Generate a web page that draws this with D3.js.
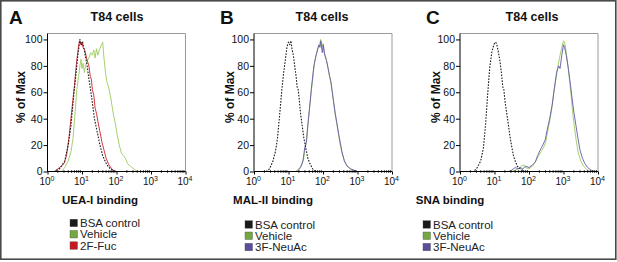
<!DOCTYPE html>
<html>
<head>
<meta charset="utf-8">
<script src="https://cdn.jsdelivr.net/npm/d3@7"></script>
<style>
  body { margin: 0; background: #fff; }
  svg { display: block; font-family: 'Liberation Sans', Arial, sans-serif; }
</style>
</head>
<body>
<div id="chart"></div>
<script>
// histogram traces: [log10 intensity, % of max]
const aBsa = [[0,0],[0.2,0],[0.35,2],[0.5,8],[0.6,20],[0.68,35],[0.77,60],[0.83,75],[0.88,88],[0.94,100],[0.98,96],[1.02,98],[1.08,90],[1.15,80],[1.2,70],[1.26,60],[1.31,50],[1.36,40],[1.44,30],[1.52,20],[1.6,12],[1.72,5],[1.82,2],[1.95,0],[4,0]];
const aVehicle = [[0,0],[0.4,0],[0.5,3],[0.6,8],[0.68,15],[0.74,25],[0.8,45],[0.85,62],[0.9,72],[0.94,80],[0.97,85],[1.0,78],[1.03,82],[1.07,75],[1.1,80],[1.15,84],[1.2,86],[1.25,90],[1.3,88],[1.34,92],[1.38,86],[1.42,93],[1.46,88],[1.5,92],[1.55,95],[1.6,98],[1.64,85],[1.68,75],[1.72,68],[1.76,65],[1.8,60],[1.84,55],[1.88,48],[1.92,42],[1.97,36],[2.02,28],[2.08,20],[2.14,14],[2.2,12],[2.26,10],[2.32,6],[2.4,4],[2.5,2],[2.6,0],[4,0]];
const a2FFuc = [[0,0],[0.2,0],[0.3,2],[0.4,4],[0.48,6],[0.55,12],[0.62,25],[0.7,45],[0.78,65],[0.84,82],[0.9,95],[0.93,99],[0.97,96],[1.0,98],[1.03,94],[1.08,92],[1.14,85],[1.2,80],[1.24,72],[1.27,70],[1.3,62],[1.34,58],[1.38,48],[1.42,44],[1.46,38],[1.52,30],[1.58,22],[1.64,16],[1.7,10],[1.78,5],[1.86,2],[1.95,0],[4,0]];

const bBsa = [[0,0],[0.35,0],[0.45,2],[0.55,8],[0.62,15],[0.68,25],[0.74,42],[0.8,60],[0.86,75],[0.91,85],[0.96,95],[1.0,98],[1.04,96],[1.07,99],[1.1,93],[1.14,88],[1.18,80],[1.22,72],[1.25,64],[1.28,62],[1.31,55],[1.35,44],[1.39,36],[1.44,26],[1.5,18],[1.56,10],[1.62,6],[1.7,2],[1.8,0],[4,0]];
const bVehicle = [[0,0],[1.2,0],[1.3,2],[1.38,5],[1.44,10],[1.5,20],[1.55,32],[1.6,45],[1.65,58],[1.7,70],[1.74,80],[1.78,86],[1.82,90],[1.86,94],[1.9,96],[1.93,100],[1.96,93],[2.0,97],[2.03,90],[2.07,88],[2.12,82],[2.16,76],[2.2,72],[2.24,65],[2.28,58],[2.32,50],[2.36,42],[2.4,36],[2.45,28],[2.5,20],[2.56,13],[2.62,8],[2.7,4],[2.8,2],[2.95,0],[4,0]];
const b3FNeuAc = [[0,0],[1.25,0],[1.35,3],[1.42,8],[1.47,18],[1.52,22],[1.56,35],[1.61,48],[1.66,62],[1.71,74],[1.75,82],[1.8,88],[1.84,92],[1.88,96],[1.91,94],[1.94,99],[1.98,90],[2.01,96],[2.05,88],[2.1,84],[2.15,78],[2.19,72],[2.23,68],[2.27,60],[2.31,52],[2.35,45],[2.4,37],[2.45,29],[2.5,22],[2.55,15],[2.62,8],[2.7,4],[2.8,2],[3.0,0],[4,0]];

const cBsa = [[0,0],[0.4,0],[0.5,3],[0.6,8],[0.68,18],[0.74,35],[0.8,58],[0.86,78],[0.92,90],[0.98,96],[1.02,98],[1.06,97],[1.1,92],[1.15,85],[1.2,75],[1.24,64],[1.27,62],[1.31,52],[1.35,45],[1.39,38],[1.44,28],[1.49,20],[1.55,12],[1.6,8],[1.66,4],[1.75,2],[1.87,0],[4,0]];
const cVehicle = [[0,0],[1.5,0],[1.6,1],[1.7,2],[1.78,4],[1.85,5],[1.9,3],[2.0,2],[2.1,4],[2.2,8],[2.28,12],[2.35,15],[2.42,18],[2.48,22],[2.54,30],[2.6,38],[2.66,48],[2.72,60],[2.78,70],[2.84,80],[2.9,88],[2.95,94],[3.0,99],[3.03,98],[3.07,92],[3.12,82],[3.17,70],[3.22,58],[3.26,46],[3.31,35],[3.36,25],[3.42,15],[3.5,8],[3.58,4],[3.66,2],[3.75,0],[4,0]];
const c3FNeuAc = [[0,0],[1.4,0],[1.5,1],[1.6,3],[1.68,2],[1.75,3],[1.82,2],[1.9,4],[2.0,3],[2.1,5],[2.18,7],[2.25,12],[2.32,16],[2.4,20],[2.47,24],[2.53,32],[2.6,40],[2.67,50],[2.73,62],[2.8,75],[2.86,80],[2.9,78],[2.95,88],[3.0,96],[3.03,94],[3.08,88],[3.14,78],[3.2,66],[3.25,55],[3.3,45],[3.36,35],[3.42,25],[3.48,16],[3.55,10],[3.62,6],[3.7,3],[3.8,1],[3.9,0],[4,0]];

const panelLetters = ['A', 'B', 'C'];
const panelTitles = ['T84 cells', 'T84 cells', 'T84 cells'];
const xTitles = ['UEA-I binding', 'MAL-II binding', 'SNA binding'];
const legendNames = [
  ['BSA control', 'Vehicle', '2F-Fuc'],
  ['BSA control', 'Vehicle', '3F-NeuAc'],
  ['BSA control', 'Vehicle', '3F-NeuAc']
];
const yTicks = [0, 20, 40, 60, 80, 100];
const xDecades = [1, 10, 100, 1000, 10000];

const colBsa = '#1a1a1a', colVeh = '#9ccb5e', colRed = '#d21f2b', colPur = '#6359aa';
const legendColors = [
  [colBsa, '#73a83e', '#c8171f'],
  [colBsa, '#73a83e', '#5b4c9c'],
  [colBsa, '#73a83e', '#5b4c9c']
];
const panelSeries = [
  [ { d: aVehicle, c: colVeh }, { d: a2FFuc, c: colRed }, { d: aBsa, c: colBsa, dash: true } ],
  [ { d: bVehicle, c: colVeh }, { d: b3FNeuAc, c: colPur }, { d: bBsa, c: colBsa, dash: true } ],
  [ { d: cVehicle, c: colVeh }, { d: c3FNeuAc, c: colPur }, { d: cBsa, c: colBsa, dash: true } ]
];

// layout
const plotLeft = [47.5, 254, 460];
const plotW = 138;
const plotTop = 33.5, plotBottom = 171.5;
const letterX = [9, 220, 426];
const titleX = [117, 322, 532];
const yLabX = [21, 230, 436];
const xTitleX = [100, 273, 450];
const legX = [70, 245, 423];
const legY = [223, 224.5, 224.5];

const svg = d3.select('#chart').append('svg')
  .attr('width', 617).attr('height', 262);

svg.append('rect')
  .attr('x', 0.8).attr('y', 0.8).attr('width', 615).attr('height', 258.4)
  .attr('fill', 'none').attr('stroke', '#4a4a4a').attr('stroke-width', 1.6);

const y = d3.scaleLinear().domain([0, 104.5]).range([plotBottom, plotTop]);

panelLetters.forEach(function(letter, i) {
  const x = d3.scaleLog().domain([1, 10000]).range([plotLeft[i], plotLeft[i] + plotW]);
  const g = svg.append('g');

  // frame: light top/right
  g.append('path')
    .attr('d', 'M' + plotLeft[i] + ',' + plotTop + 'H' + (plotLeft[i] + plotW) + 'V' + plotBottom)
    .attr('fill', 'none').attr('stroke', '#9a9a9a').attr('stroke-width', 1);

  const line = d3.line()
    .x(function(d) { return x(Math.pow(10, d[0])); })
    .y(function(d) { return y(d[1]); });

  panelSeries[i].forEach(function(s) {
    g.append('path')
      .datum(s.d)
      .attr('d', line)
      .attr('fill', 'none')
      .attr('stroke', s.c)
      .attr('stroke-width', s.dash ? 1.1 : 0.9)
      .attr('stroke-dasharray', s.dash ? '1.6,1.4' : null)
      .attr('stroke-linejoin', 'round');
  });

  // y axis
  const ya = g.append('g')
    .attr('transform', 'translate(' + plotLeft[i] + ',0)')
    .call(d3.axisLeft(y).tickValues(yTicks).tickSize(4).tickPadding(1));
  ya.select('.domain').attr('d', 'M0,' + plotTop + 'V' + plotBottom).attr('stroke', '#000');
  ya.selectAll('text').attr('font-size', 10.5).attr('font-family', 'Liberation Sans, Arial, sans-serif').attr('fill', '#111');

  // x axis with minor log ticks
  const minor = [];
  for (let k = 1; k < 10000; k *= 10) for (let m = 2; m < 10; m++) minor.push(k * m);
  const xa = g.append('g')
    .attr('transform', 'translate(0,' + plotBottom + ')')
    .call(d3.axisBottom(x).tickValues(xDecades).tickSize(3).tickFormat(''));
  xa.select('.domain').attr('d', 'M' + plotLeft[i] + ',0H' + (plotLeft[i] + plotW)).attr('stroke', '#000');
  xa.selectAll('.minor').data(minor).enter().append('line')
    .attr('class', 'minor')
    .attr('x1', function(d) { return x(d); }).attr('x2', function(d) { return x(d); })
    .attr('y1', -1.5).attr('y2', 1.5)
    .attr('stroke', '#000').attr('stroke-width', 0.7);

  const lab = g.selectAll('.xlab').data(xDecades).enter().append('text')
    .attr('class', 'xlab')
    .attr('x', function(d) { return x(d) - 0.5; })
    .attr('y', plotBottom + 13)
    .attr('text-anchor', 'middle')
    .attr('font-size', 10).attr('fill', '#111');
  lab.append('tspan').text('10');
  lab.append('tspan')
    .attr('dy', -4).attr('font-size', 7)
    .text(function(d) { return Math.round(Math.log10(d)); });

  // texts
  svg.append('text')
    .attr('x', letterX[i]).attr('y', 23.5)
    .attr('font-size', 19).attr('font-weight', 'bold').attr('fill', '#111')
    .text(letter);
  svg.append('text')
    .attr('x', titleX[i]).attr('y', 21)
    .attr('text-anchor', 'middle')
    .attr('font-size', 12.5).attr('font-weight', 'bold').attr('fill', '#111')
    .text(panelTitles[i]);
  svg.append('text')
    .attr('transform', 'translate(' + (yLabX[i] + 4) + ',97) rotate(-90)')
    .attr('text-anchor', 'middle')
    .attr('font-size', 12).attr('font-weight', 'bold').attr('fill', '#111')
    .text('% of Max');
  svg.append('text')
    .attr('x', xTitleX[i]).attr('y', 203.5)
    .attr('text-anchor', 'middle')
    .attr('font-size', 11.5).attr('font-weight', 'bold').attr('fill', '#111')
    .text(xTitles[i]);

  // legend
  const leg = svg.append('g');
  legendNames[i].forEach(function(name, j) {
    const yy = legY[i] + j * 11.3;
    leg.append('rect')
      .attr('x', legX[i]).attr('y', yy - 3.8)
      .attr('width', 7.5).attr('height', 7.5)
      .attr('fill', legendColors[i][j]).attr('stroke', '#555').attr('stroke-width', 0.4);
    leg.append('text')
      .attr('x', legX[i] + 10).attr('y', yy + 4)
      .attr('font-size', 11.5).attr('fill', '#222')
      .text(name);
  });
});
</script>
</body>
</html>
